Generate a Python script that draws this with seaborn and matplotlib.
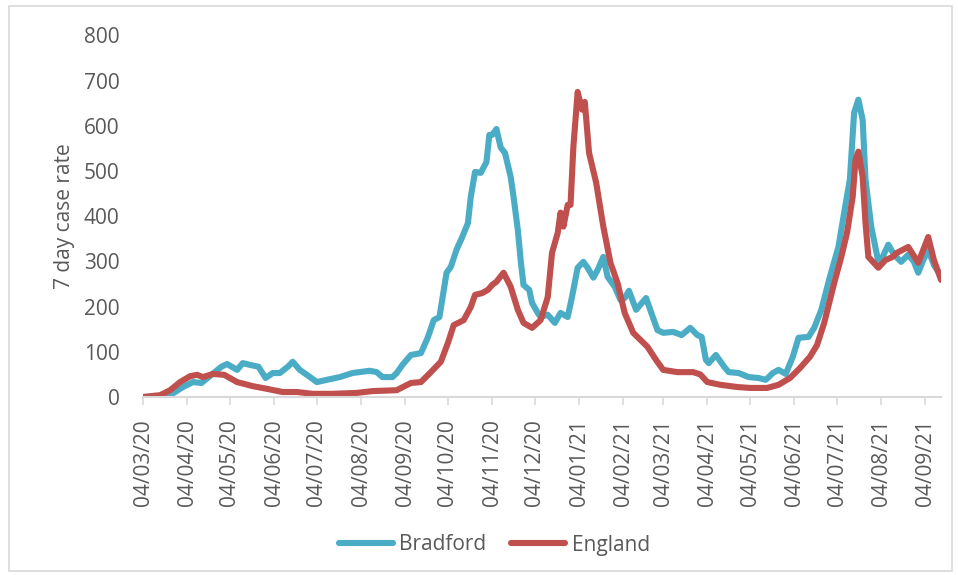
import matplotlib
matplotlib.use("Agg")
import matplotlib.pyplot as plt
import matplotlib.dates as mdates
from matplotlib.patches import Rectangle
import pandas as pd
import seaborn as sns

# 7-day case rate per 100k, read at turning points of each curve
bradford_dates = [
    "2020-03-04", "2020-03-16", "2020-03-23", "2020-04-01", "2020-04-08", "2020-04-14",
    "2020-04-21", "2020-04-28", "2020-05-02", "2020-05-09", "2020-05-13", "2020-05-18",
    "2020-05-24", "2020-05-29", "2020-06-03", "2020-06-08", "2020-06-14", "2020-06-17",
    "2020-06-22", "2020-06-27", "2020-07-04", "2020-07-11", "2020-07-20", "2020-07-29",
    "2020-08-10", "2020-08-15", "2020-08-19", "2020-08-26", "2020-08-29", "2020-09-02",
    "2020-09-08", "2020-09-15", "2020-09-20", "2020-09-24", "2020-09-28", "2020-10-03",
    "2020-10-06", "2020-10-10", "2020-10-14", "2020-10-18", "2020-10-20", "2020-10-23",
    "2020-10-27", "2020-10-31", "2020-11-02", "2020-11-04", "2020-11-07", "2020-11-10",
    "2020-11-13", "2020-11-17", "2020-11-19", "2020-11-22", "2020-11-24", "2020-11-26",
    "2020-11-30", "2020-12-02", "2020-12-06", "2020-12-08", "2020-12-13", "2020-12-18",
    "2020-12-22", "2020-12-27", "2020-12-30", "2021-01-03", "2021-01-07", "2021-01-10",
    "2021-01-14", "2021-01-17", "2021-01-21", "2021-01-24", "2021-01-29", "2021-02-02",
    "2021-02-05", "2021-02-08", "2021-02-13", "2021-02-20", "2021-02-28", "2021-03-04",
    "2021-03-11", "2021-03-17", "2021-03-23", "2021-03-28", "2021-03-31", "2021-04-03",
    "2021-04-05", "2021-04-10", "2021-04-16", "2021-04-19", "2021-04-26", "2021-05-03",
    "2021-05-10", "2021-05-15", "2021-05-20", "2021-05-24", "2021-05-29", "2021-06-03",
    "2021-06-07", "2021-06-14", "2021-06-18", "2021-06-23", "2021-06-29", "2021-07-05",
    "2021-07-09", "2021-07-13", "2021-07-16", "2021-07-19", "2021-07-22", "2021-07-24",
    "2021-07-28", "2021-08-02", "2021-08-05", "2021-08-09", "2021-08-13", "2021-08-18",
    "2021-08-23", "2021-08-27", "2021-08-30", "2021-09-02", "2021-09-06", "2021-09-10",
    "2021-09-15",
]
bradford_rate = [
    0, 1, 4, 22, 33, 31,
    49, 67, 73, 60, 75, 71,
    67, 42, 53, 53, 68, 78,
    60, 49, 33, 38, 44, 53,
    58, 55, 44, 44, 53, 71,
    93, 97, 133, 170, 177, 275,
    288, 326, 354, 385, 443, 498,
    496, 520, 580, 580, 593, 552,
    540, 487, 443, 370, 303, 248,
    237, 208, 186, 177, 182, 164,
    186, 177, 221, 286, 299, 286,
    264, 281, 310, 266, 244, 215,
    219, 235, 193, 219, 148, 142,
    144, 137, 153, 137, 133, 82,
    75, 93, 66, 55, 53, 44,
    42, 38, 53, 60, 51, 89,
    131, 133, 153, 193, 266, 332,
    408, 481, 629, 658, 613, 481,
    377, 299, 310, 337, 315, 299,
    315, 299, 275, 299, 326, 292,
    268,
]

england_dates = [
    "2020-03-04", "2020-03-16", "2020-03-23", "2020-03-30", "2020-04-06", "2020-04-11",
    "2020-04-15", "2020-04-22", "2020-04-30", "2020-05-09", "2020-05-20", "2020-05-30",
    "2020-06-10", "2020-06-20", "2020-07-01", "2020-07-15", "2020-08-01", "2020-08-12",
    "2020-08-29", "2020-09-08", "2020-09-15", "2020-09-22", "2020-09-29", "2020-10-04",
    "2020-10-08", "2020-10-15", "2020-10-20", "2020-10-23", "2020-10-28", "2020-11-01",
    "2020-11-04", "2020-11-07", "2020-11-12", "2020-11-17", "2020-11-22", "2020-11-26",
    "2020-12-02", "2020-12-08", "2020-12-13", "2020-12-16", "2020-12-20", "2020-12-22",
    "2020-12-24", "2020-12-27", "2020-12-29", "2020-12-31", "2021-01-03", "2021-01-06",
    "2021-01-08", "2021-01-11", "2021-01-16", "2021-01-21", "2021-01-26", "2021-01-31",
    "2021-02-05", "2021-02-11", "2021-02-21", "2021-02-27", "2021-03-04", "2021-03-14",
    "2021-03-25", "2021-03-30", "2021-04-04", "2021-04-13", "2021-04-25", "2021-05-04",
    "2021-05-16", "2021-05-24", "2021-06-01", "2021-06-08", "2021-06-15", "2021-06-20",
    "2021-06-25", "2021-07-02", "2021-07-07", "2021-07-11", "2021-07-15", "2021-07-17",
    "2021-07-19", "2021-07-22", "2021-07-24", "2021-07-26", "2021-08-02", "2021-08-07",
    "2021-08-12", "2021-08-15", "2021-08-23", "2021-08-30", "2021-09-06", "2021-09-10",
    "2021-09-15",
]
england_rate = [
    0, 4, 15, 33, 46, 49,
    44, 51, 49, 33, 24, 18,
    11, 11, 7, 7, 9, 13,
    15, 31, 33, 55, 78, 120,
    159, 170, 199, 226, 230, 237,
    248, 255, 275, 244, 193, 164,
    153, 170, 221, 319, 363, 408,
    377, 425, 425, 554, 675, 636,
    653, 540, 474, 377, 297, 252,
    186, 142, 111, 82, 60, 55,
    55, 50, 33, 27, 22, 20,
    20, 27, 42, 64, 89, 115,
    164, 252, 310, 363, 443, 525,
    543, 487, 385, 310, 286, 303,
    310, 319, 332, 297, 354, 303,
    259,
]

areas = ["Bradford", "England"]
colors = {"Bradford": "#4BACC6", "England": "#C0504D"}

df = pd.concat([
    pd.DataFrame({"date": pd.to_datetime(bradford_dates), "rate": bradford_rate, "area": "Bradford"}),
    pd.DataFrame({"date": pd.to_datetime(england_dates), "rate": england_rate, "area": "England"}),
], ignore_index=True)

sns.set_theme(style="white")
plt.rcParams["font.family"] = ["Open Sans", "DejaVu Sans"]
text_color = "#595959"
axis_color = "#D9D9D9"

fig = plt.figure(figsize=(9.58, 5.75), dpi=100)
ax = fig.add_axes([0.1493, 0.3096, 0.8330, 0.6287])

sns.lineplot(data=df, x="date", y="rate", hue="area", hue_order=areas,
             palette=colors, linewidth=4.4, estimator=None, sort=True,
             ax=ax, legend=True)
for line in ax.get_lines():
    line.set_solid_joinstyle("round")
    line.set_solid_capstyle("round")

ax.set_xlim(pd.Timestamp("2020-03-04"), pd.Timestamp("2021-09-15"))
ax.set_ylim(0, 800)
ax.set_yticks(range(0, 801, 100))

ax.xaxis.set_major_locator(mdates.MonthLocator(bymonthday=4))
ax.xaxis.set_major_formatter(mdates.DateFormatter("%d/%m/%y"))
ax.tick_params(axis="x", rotation=90, labelsize=15, labelcolor=text_color,
               bottom=True, length=6, width=1.2, color=axis_color, pad=10)
ax.tick_params(axis="y", labelsize=15, labelcolor=text_color, left=False, pad=11)

for side in ["top", "right", "left"]:
    ax.spines[side].set_visible(False)
ax.spines["bottom"].set_color(axis_color)
ax.spines["bottom"].set_linewidth(1.5)

ax.set_xlabel("")
ax.set_ylabel("7 day case rate", fontsize=15, color=text_color, labelpad=6)

handles, labels = ax.get_legend_handles_labels()
ax.legend_.remove()
for h in handles:
    h.set_linewidth(4.4)
    h.set_solid_capstyle("round")
fig.legend(handles, labels, loc="center", bbox_to_anchor=(0.516, 1 - 545 / 575),
           ncol=2, frameon=False, fontsize=15, labelcolor=text_color,
           handlelength=2.6, handletextpad=0.3, columnspacing=1.2)

fig.patches.append(Rectangle((9 / 958, 1 - 571 / 575), 943 / 958, 565 / 575,
                             transform=fig.transFigure, fill=False,
                             edgecolor="#D9D9D9", linewidth=1.2))

fig.savefig("out.png", dpi=100, facecolor="white")
